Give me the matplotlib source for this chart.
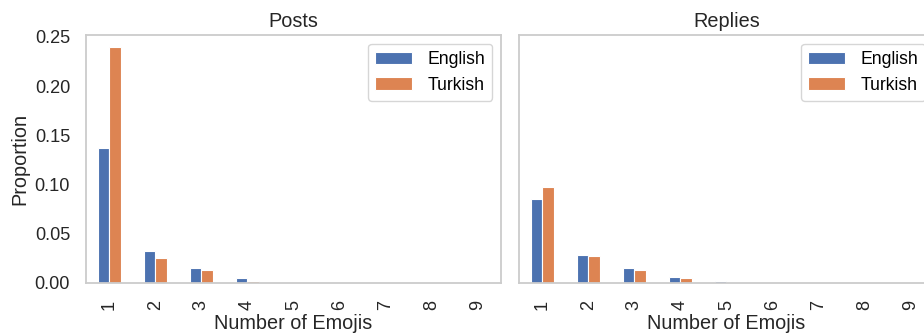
import matplotlib
matplotlib.use("Agg")
import matplotlib.pyplot as plt
import numpy as np

# Emoji-count distribution per language
emoji_counts = ["1", "2", "3", "4", "5", "6", "7", "8", "9"]

posts_english = [0.1375, 0.0320, 0.0150, 0.0051, 0.0005, 0.0002, 0.0001, 0.0001, 0.0000]
posts_turkish = [0.2398, 0.0255, 0.0133, 0.0024, 0.0003, 0.0001, 0.0001, 0.0000, 0.0000]

replies_english = [0.0854, 0.0282, 0.0153, 0.0061, 0.0024, 0.0006, 0.0003, 0.0001, 0.0001]
replies_turkish = [0.0977, 0.0276, 0.0133, 0.0048, 0.0013, 0.0004, 0.0002, 0.0001, 0.0000]

series_names = ["English", "Turkish"]
colors = ["#4C72B0", "#DD8452"]

plt.rcParams["font.family"] = ["Liberation Sans", "DejaVu Sans"]
LABEL_SIZE = 14.3
TICK_SIZE = 13.1
LEGEND_SIZE = 12.7

fig = plt.figure(figsize=(9.24, 3.33), dpi=100)
ax_posts = fig.add_axes([0.0931, 0.1502, 0.4491, 0.7447])
ax_replies = fig.add_axes([0.5617, 0.1502, 0.4491, 0.7447], sharey=ax_posts)

panels = [
    (ax_posts, "Posts", posts_english, posts_turkish),
    (ax_replies, "Replies", replies_english, replies_turkish),
]

x = np.arange(len(emoji_counts))
width = 0.25
for ax, title, eng, tur in panels:
    for i, (vals, name) in enumerate(zip([eng, tur], series_names)):
        ax.bar(x + (i - 0.5) * width, vals, width=width, color=colors[i],
               edgecolor="white", linewidth=0.8, label=name)
    ax.set_xlim(-0.5, len(emoji_counts) - 0.5)
    ax.set_xticks(x)
    ax.set_xticklabels(emoji_counts, rotation=90)
    ax.set_title(title, fontsize=LABEL_SIZE, pad=6, color="#262626")
    ax.set_xlabel("Number of Emojis", fontsize=LABEL_SIZE, labelpad=2.5, color="#262626")
    for sp in ax.spines.values():
        sp.set_color("#cccccc")
        sp.set_linewidth(1.3)
    ax.tick_params(axis="y", length=0, pad=11.5, labelsize=TICK_SIZE, colors="#262626")
    ax.tick_params(axis="x", length=0, pad=12.5, labelsize=TICK_SIZE, colors="#262626")
    leg = ax.legend(loc="upper right", frameon=True, fancybox=True, fontsize=LEGEND_SIZE,
                    borderaxespad=0.5, handlelength=2.1, handletextpad=0.85)
    leg.get_frame().set_edgecolor("#cccccc")
    leg.get_frame().set_linewidth(1.0)

ax_posts.set_ylabel("Proportion", fontsize=LABEL_SIZE, color="#262626")
ax_posts.set_yticks([0.0, 0.05, 0.10, 0.15, 0.20, 0.25])
ax_posts.set_yticklabels(["0.00", "0.05", "0.10", "0.15", "0.20", "0.25"])
plt.setp(ax_replies.get_yticklabels(), visible=False)

fig.savefig("out.png", dpi=100)
